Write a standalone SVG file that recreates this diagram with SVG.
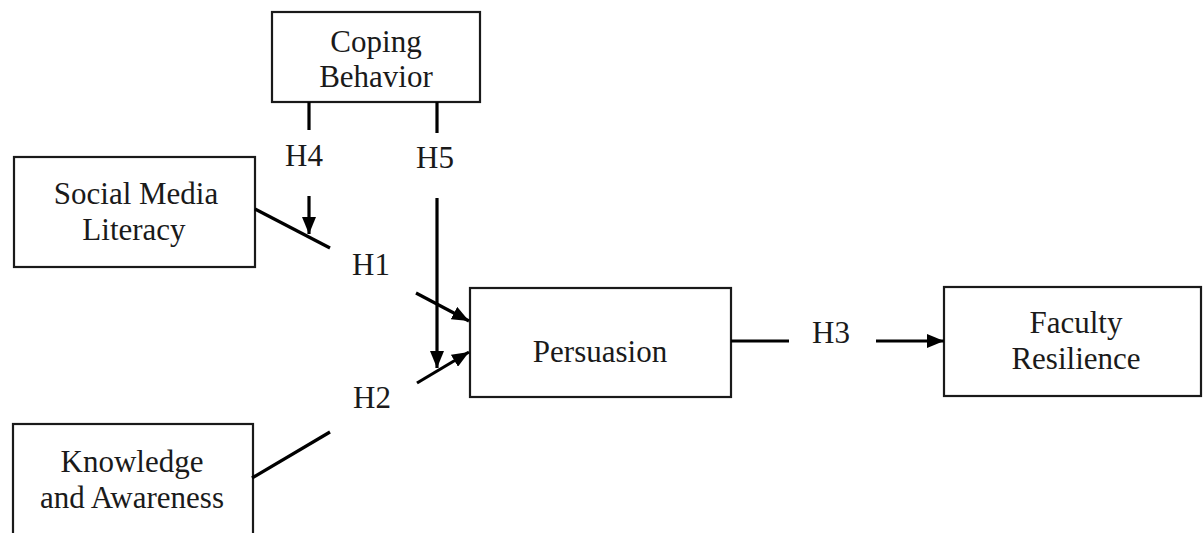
<svg xmlns="http://www.w3.org/2000/svg" width="1204" height="533" viewBox="0 0 1204 533">
<style>
.box{fill:#fff;stroke:#1a1a1a;stroke-width:2.2}
.t{font-family:"Liberation Serif","Times New Roman",serif;font-size:31px;fill:#1a1a1a;text-anchor:middle}
.ln{stroke:#000;stroke-width:3.2;fill:none}
</style>
<defs>
<marker id="ah" markerUnits="userSpaceOnUse" markerWidth="18" markerHeight="14" refX="17" refY="7" orient="auto">
<path d="M0,0 L17,7 L0,14 Z" fill="#000"/>
</marker>
</defs>
<rect width="1204" height="533" fill="#fff"/>
<g id="coping">
<rect class="box" x="272" y="12" width="208" height="90"/>
<text class="t" x="376" y="52">Coping</text>
<text class="t" x="376" y="87">Behavior</text>
</g>
<g id="sml">
<rect class="box" x="14" y="157" width="241" height="110"/>
<text class="t" x="136" y="204">Social Media</text>
<text class="t" x="134" y="240">Literacy</text>
</g>
<g id="ka">
<rect class="box" x="13" y="424" width="240" height="120"/>
<text class="t" x="132" y="472">Knowledge</text>
<text class="t" x="132" y="508">and Awareness</text>
</g>
<g id="persuasion">
<rect class="box" x="470" y="288" width="261" height="109"/>
<text class="t" x="600" y="362">Persuasion</text>
</g>
<g id="faculty">
<rect class="box" x="944" y="287" width="257" height="109"/>
<text class="t" x="1076" y="333">Faculty</text>
<text class="t" x="1076" y="369">Resilience</text>
</g>
<g id="connectors">
<line class="ln" x1="309" y1="102" x2="309" y2="130"/>
<line class="ln" x1="309" y1="196" x2="309" y2="234" marker-end="url(#ah)"/>
<line class="ln" x1="437" y1="102" x2="437" y2="133"/>
<line class="ln" x1="437" y1="198" x2="437" y2="368" marker-end="url(#ah)"/>
<line class="ln" x1="255" y1="209" x2="330" y2="248"/>
<line class="ln" x1="416" y1="293" x2="469" y2="321" marker-end="url(#ah)"/>
<line class="ln" x1="252" y1="478" x2="330" y2="432"/>
<line class="ln" x1="417" y1="383" x2="469" y2="352" marker-end="url(#ah)"/>
<line class="ln" x1="731" y1="341" x2="789" y2="341"/>
<line class="ln" x1="876" y1="341" x2="944" y2="341" marker-end="url(#ah)"/>
<text class="t" x="304" y="166">H4</text>
<text class="t" x="435" y="168">H5</text>
<text class="t" x="371" y="275">H1</text>
<text class="t" x="372" y="408">H2</text>
<text class="t" x="831" y="343">H3</text>
</g>
</svg>
